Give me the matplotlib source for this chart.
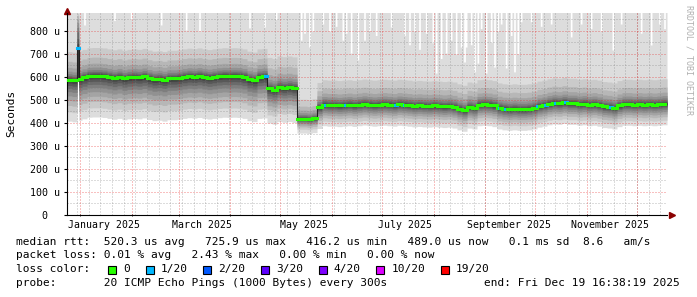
import numpy as np
import matplotlib.pyplot as plt
from matplotlib.patches import Rectangle
from datetime import date

plt.rcParams['font.family'] = 'DejaVu Sans Mono'

# 360 days ending Fri Dec 19 2025
start = date(2024, 12, 24)
n_days = 360
col_days = 3

# median rtt (us), one value per 3-day column
median = [588, 585, 592, 598, 605, 606, 606, 604, 600, 596,
          600, 594, 598, 600, 598, 602, 595, 590, 592, 588,
          594, 594, 596, 600, 603, 601, 604, 600, 597, 600,
          603, 605, 604, 605, 604, 600, 590, 586, 600, 602,
          550, 545, 556, 553, 556, 552, 418, 418, 416, 420,
          468, 480, 478, 478, 476, 478, 480, 477, 480, 483,
          480, 478, 480, 482, 480, 478, 482, 480, 478, 475,
          477, 475, 474, 476, 474, 472, 474, 470, 462, 456,
          470, 466, 480, 482, 480, 476, 466, 462, 460, 462,
          460, 460, 462, 466, 474, 478, 484, 488, 486, 490,
          486, 486, 482, 484, 480, 482, 478, 472, 470, 466,
          476, 482, 482, 480, 482, 480, 482, 480, 482, 484]

# days with 1/20 packet loss
loss_days = [119, 155, 167, 197, 202, 259, 263, 282, 287, 293, 299, 326]

# smoke: sorted pings relative to the median, outer -> inner
regime_start = [0, 40, 46, 50]
smoke_up = [[0, 122, 80, 54, 37, 26, 18, 12, 7, 3],
            [0, 135, 90, 60, 40, 28, 19, 12, 7, 3],
            [0, 85, 55, 38, 27, 19, 13, 9, 5, 2],
            [0, 108, 72, 50, 35, 25, 17, 11, 6, 3]]
smoke_lo = [[-180, -140, -112, -90, -70, -52, -38, -25, -14, -6],
            [-150, -115, -92, -75, -58, -44, -32, -21, -12, -5],
            [-62, -45, -35, -27, -20, -15, -10, -7, -4, -2],
            [-92, -72, -57, -45, -35, -26, -18, -12, -7, -3]]
max_ping = 900
gap_days = [10, 28, 38, 56, 71, 79, 109, 118, 125,
            140, 142, 145, 147, 153, 157, 161, 165, 167, 170, 174, 178, 181, 185,
            194, 202, 205, 208, 211, 215, 219, 221, 224, 227, 230, 233, 236, 238,
            239, 242, 244, 246, 248, 251, 254, 256, 258, 260, 263, 266, 268, 270,
            272, 278, 284, 290, 302, 308, 314, 320, 327, 332, 344, 350, 355, 358]
gap_tops = [826, 845, 850, 826, 804, 800, 813, 817, 850,
            760, 790, 730, 800, 830, 800, 820, 760, 790, 704, 674, 760, 800, 780,
            817, 780, 740, 800, 720, 790, 748, 617, 680, 704, 760, 700, 730, 665,
            730, 740, 622, 660, 810, 617, 750, 643, 800, 830, 639, 780, 622, 700,
            840, 840, 820, 830, 774, 830, 810, 800, 717, 830, 790, 739, 830, 810]

# the single high sample early in January
spike_day = 6
spike_median = 726
spike_up = [0, 150, 140, 125, 110, 90, 70, 40, 20, 6]
spike_lo = [-136] * 10

loss_labels = ['0', '1/20', '2/20', '3/20', '4/20', '10/20', '19/20']
loss_colors = ['#26ff00', '#00b8ff', '#0059ff', '#5e00ff', '#7e00ff', '#dd00ff', '#ff0000']
greys = [221, 202, 183, 164, 145, 126, 107, 88, 69, 50]

W, H = 697, 297
fig = plt.figure(figsize=(W / 100, H / 100), dpi=100)
ax = fig.add_axes([67 / W, (H - 215) / H, 600 / W, 202 / H])
ax.set_xlim(0, n_days)
ax.set_ylim(0, 878)

days = np.arange(n_days)
edges = np.append(days, n_days)
med = np.repeat(median, col_days).astype(float)
reg = np.searchsorted(regime_start, np.arange(len(median)), side='right') - 1
reg = np.repeat(reg, col_days)
up = np.array([smoke_up[r] for r in reg], dtype=float)
lo = np.array([smoke_lo[r] for r in reg], dtype=float)
top = np.full(n_days, float(max_ping))
top[gap_days] = gap_tops
med[spike_day] = spike_median
up[spike_day] = spike_up
lo[spike_day] = spike_lo

for k in range(10):
    hi = top if k == 0 else med + up[:, k]
    low = med + lo[:, k]
    c = '#%02x%02x%02x' % (greys[k], greys[k], greys[k])
    ax.fill_between(edges, np.append(low, low[-1]), np.append(hi, hi[-1]),
                    step='post', color=c, lw=0, zorder=1)

# grid, dotted
grey_grid = (0.5, 0.5, 0.5, 0.55)
red_grid = (0.9, 0.1, 0.1, 0.55)
gkw = dict(lw=0.72, ls=(0, (1, 2)), zorder=2)
month_days = [(date(2025, m, 1) - start).days for m in range(1, 13)]
first_monday = 6
for d in range(first_monday, n_days, 7):
    ax.axvline(d, color=grey_grid, **gkw)
for v in range(50, 900, 100):
    ax.axhline(v, color=grey_grid, **gkw)
for d in month_days:
    ax.axvline(d, color=red_grid, **gkw)
for v in range(100, 900, 100):
    ax.axhline(v, color=red_grid, **gkw)

# median line
ax.step(edges, np.append(med, med[-1]), where='post', color='#202020', lw=0.8, zorder=3)
cols = [loss_colors[0]] * n_days
for d in loss_days + [spike_day]:
    cols[d] = loss_colors[1]
ax.hlines(med, days, days + 1, colors=cols, lw=2.2, capstyle='projecting', zorder=4)

# axes
for s in ['top', 'right']:
    ax.spines[s].set_visible(False)
for s in ['left', 'bottom']:
    ax.spines[s].set_color('#000000')
    ax.spines[s].set_linewidth(0.8)
ax.plot([1.008], [0], marker='>', ms=4, color='#8b0000', transform=ax.transAxes, clip_on=False)
ax.plot([0], [1.01], marker='^', ms=4, color='#8b0000', transform=ax.transAxes, clip_on=False)

yt = list(range(0, 900, 100))
ax.set_yticks(yt)
ax.set_yticklabels([('%d u' % v) if v else '0  ' for v in yt], fontsize=7.2)
ax.set_xticks(month_days)
ax.set_xticklabels([])
ax.tick_params(axis='y', length=2.5, width=0.8, pad=2.5)
ax.tick_params(axis='x', length=2, width=0.6, direction='inout')

label_months = [1, 3, 5, 7, 9, 11]
names = ['January', 'March', 'May', 'July', 'September', 'November']
for m, nm in zip(label_months, names):
    d = (date(2025, m, 15) - start).days
    ax.text(d, -0.05, '%s 2025' % nm, transform=ax.get_xaxis_transform(),
            ha='center', va='center', fontsize=7.1)

fig.text(11 / W, 1 - 113 / H, 'Seconds', rotation=90, ha='center', va='center', fontsize=8)
fig.text(689 / W, 1 - 5 / H, 'RRDTOOL / TOBI OETIKER', rotation=270, ha='center', va='top',
         fontsize=6, color='#b0b0b0')

def ftext(x, y, s, **kw):
    fig.text(x / W, 1 - y / H, s, va='center', fontsize=8, **kw)

ftext(16, 241.7, 'median rtt:  520.3 us avg   725.9 us max   416.2 us min   489.0 us now   0.1 ms sd  8.6   am/s')
ftext(16, 255, 'packet loss: 0.01 % avg   2.43 % max   0.00 % min   0.00 % now')
ftext(16, 269.3, 'loss color:')
ftext(16, 282.7, 'probe:       20 ICMP Echo Pings (1000 Bytes) every 300s')
ftext(680, 282.7, 'end: Fri Dec 19 16:38:19 2025', ha='right')

cw = 6.667
xb = 108
for lab, c in zip(loss_labels, loss_colors):
    fig.add_artist(Rectangle((xb / W, 1 - 273.5 / H), 8 / W, 8 / H, transform=fig.transFigure,
                             facecolor=c, edgecolor='black', lw=0.8))
    ftext(xb + 15, 269.3, lab)
    xb = xb + 15 + len(lab) * cw + 16

fig.savefig('out.png', dpi=100, facecolor='white')
